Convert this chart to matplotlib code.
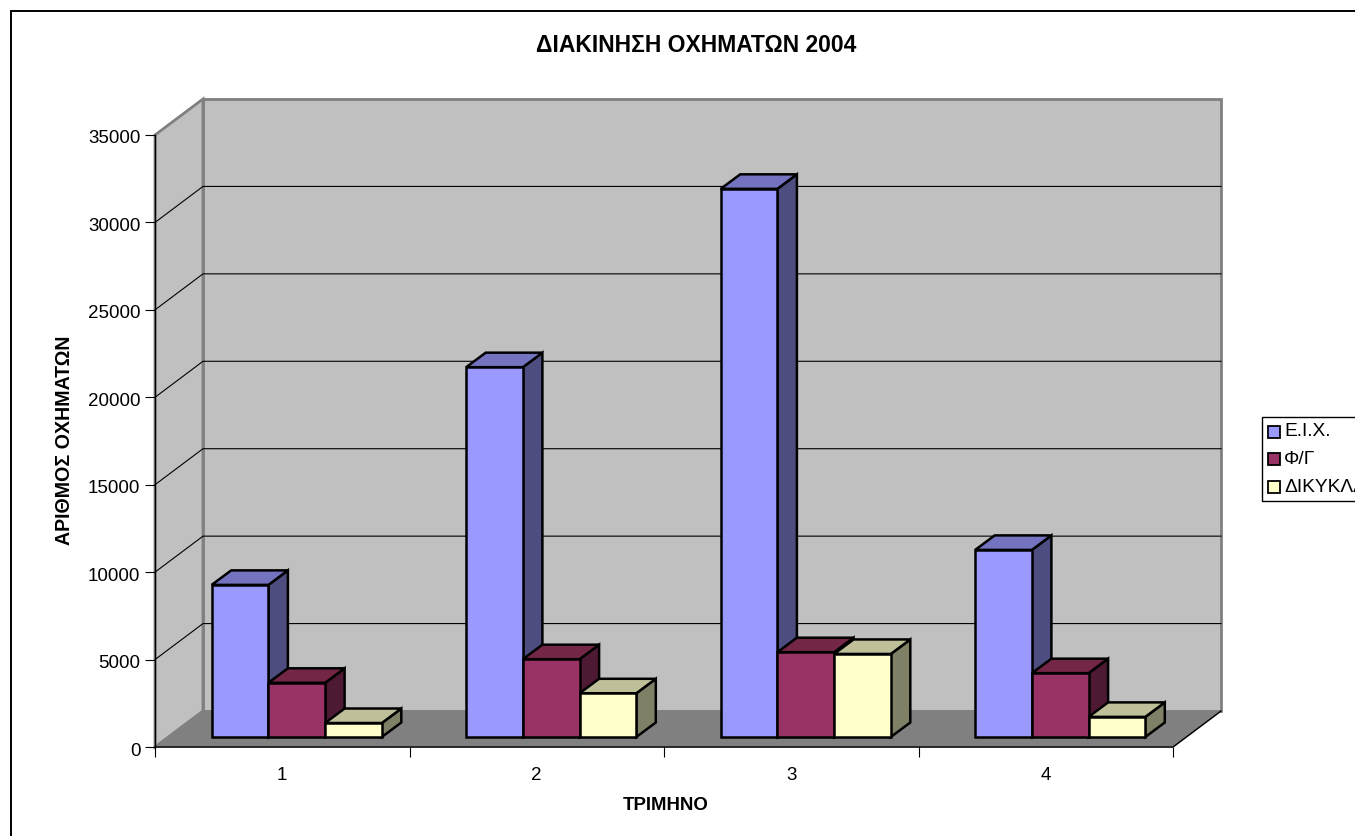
## Quarterly vehicle traffic for 2004, drawn as a pseudo-3D clustered bar chart

import matplotlib
matplotlib.use("Agg")
import matplotlib.pyplot as plt
from matplotlib.patches import Polygon, Rectangle
from matplotlib.transforms import Affine2D

plt.rcParams['font.family'] = ['Liberation Sans', 'DejaVu Sans']

quarters = ['1', '2', '3', '4']
series_names = ['Ε.Ι.Χ.', 'Φ/Γ', 'ΔΙΚΥΚΛΑ']
cars = [8700, 21150, 31350, 10700]
trucks = [3100, 4450, 4850, 3650]
bikes = [800, 2500, 4750, 1150]
y_ticks = [0, 5000, 10000, 15000, 20000, 25000, 30000, 35000]

front_colors = ['#9999FF', '#993366', '#FFFFCC']
top_colors = ['#7373BF', '#732645', '#BFBF99']
side_colors = ['#4D4D80', '#4D1933', '#808066']

W, H = 1355, 836
fig = plt.figure(figsize=(W / 100, H / 100), dpi=100)

# axes rectangle is the front edge of the floor, in pixels from the top left
left, right, top, bottom = 155, 1173, 135, 747
ax = fig.add_axes([left / W, 1 - bottom / H, (right - left) / W, (bottom - top) / H])
ax.set_xlim(0, 4)
ax.set_ylim(0, 35000)
ax.patch.set_visible(False)

# pixel sizes converted to data units
px_x = 4 / (right - left)
px_y = 35000 / (bottom - top)
box_dx, box_dy = 48 * px_x, 36 * px_y     # depth of the whole chart box
bar_dx, bar_dy = 19.5 * px_x, 14.5 * px_y  # depth of a single bar
shift_dx, shift_dy = 14.5 * px_x, 10 * px_y  # gap from the front edge to a bar
bar_w = 56.7 * px_x


def poly(points, face, edge='black', lw=1.8, z=2):
    ax.add_patch(Polygon(points, closed=True, facecolor=face, edgecolor=edge,
                         linewidth=lw, joinstyle='miter', clip_on=False, zorder=z))


# walls and floor
poly([(box_dx, box_dy), (4 + box_dx, box_dy), (4 + box_dx, 35000 + box_dy), (box_dx, 35000 + box_dy)],
     '#C0C0C0', edge='#808080', lw=2, z=1)
poly([(0, 0), (box_dx, box_dy), (box_dx, 35000 + box_dy), (0, 35000)],
     '#C0C0C0', edge='#808080', lw=2, z=1)
poly([(0, 0), (4, 0), (4 + box_dx, box_dy), (box_dx, box_dy)],
     '#808080', edge='#808080', lw=1, z=1)

# gridlines run along the side wall and then the back wall
for t in y_ticks[1:-1]:
    ax.plot([0, box_dx, 4 + box_dx], [t, t + box_dy, t + box_dy], color='black', lw=0.8,
            clip_on=False, zorder=1.5, solid_joinstyle='miter')

# floor edges over the wall
ax.plot([0, 4, 4 + box_dx], [0, 0, box_dy], color='black', lw=1, clip_on=False, zorder=1.6)
ax.plot([0, 0], [0, 35000], color='black', lw=1, clip_on=False, zorder=1.6)

# bars, each one a front face plus top and side faces
all_series = [cars, trucks, bikes]
order = 2
for q in range(len(quarters)):
    center = q + 0.5 + shift_dx
    for s, values in enumerate(all_series):
        v = values[q]
        x0 = center + (s - 1.5) * bar_w
        x1 = x0 + bar_w
        y0 = shift_dy
        y1 = y0 + v
        order += 1
        poly([(x1, y0), (x1 + bar_dx, y0 + bar_dy), (x1 + bar_dx, y1 + bar_dy), (x1, y1)],
             side_colors[s], z=order)
        poly([(x0, y1), (x1, y1), (x1 + bar_dx, y1 + bar_dy), (x0 + bar_dx, y1 + bar_dy)],
             top_colors[s], z=order)
        poly([(x0, y0), (x1, y0), (x1, y1), (x0, y1)], front_colors[s], z=order)

# axis ticks and labels
ax.set_xticks(range(5))
ax.set_xticklabels([])
ax.set_yticks(y_ticks)
ax.set_yticklabels([str(t) for t in y_ticks])
ax.tick_params(axis='both', length=7.5, width=0.8, color='black', labelsize=13.5, pad=3)
for lab in ax.get_yticklabels():
    lab.set_transform(lab.get_transform() + Affine2D().translate(0, -2))
for q, name in zip(range(4), quarters):
    ax.annotate(name, (q + 0.5, 0), xytext=(0, -28), textcoords='offset pixels',
                ha='center', va='center', fontsize=13.5)
for side in ['top', 'right', 'left', 'bottom']:
    ax.spines[side].set_visible(False)

fig.text(696 / W, 1 - 45 / H, 'ΔΙΑΚΙΝΗΣΗ ΟΧΗΜΑΤΩΝ 2004', ha='center', va='center',
         fontsize=16.5, fontweight='bold')
fig.text(666 / W, 1 - 805 / H, 'ΤΡΙΜΗΝΟ', ha='center', va='center',
         fontsize=13.4, fontweight='bold')
fig.text(65 / W, 1 - 440 / H, 'ΑΡΙΘΜΟΣ ΟΧΗΜΑΤΩΝ', ha='center', va='center',
         rotation=90, fontsize=14.1, fontweight='bold')

# outer chart border, its right and bottom sides fall outside the figure
fig.add_artist(Rectangle((10.5 / W, 1 - 900 / H), 1500 / W, 889.5 / H, transform=fig.transFigure,
                         fill=False, edgecolor='black', linewidth=1.4))

# legend box runs past the edge of the figure, so it is built by hand
fig.add_artist(Rectangle((1261.5 / W, 1 - 501 / H), 120 / W, 84 / H, transform=fig.transFigure,
                         facecolor='white', edgecolor='black', linewidth=1))
for i, name in enumerate(series_names):
    y = 432 + i * 27.5
    fig.add_artist(Rectangle((1268 / W, 1 - (y + 6) / H), 12 / W, 12 / H, transform=fig.transFigure,
                             facecolor=front_colors[i], edgecolor='black', linewidth=1.3))
    fig.text(1284 / W, 1 - y / H, name, ha='left', va='center', fontsize=13.8)

fig.savefig('out.png', dpi=100, facecolor='white')
